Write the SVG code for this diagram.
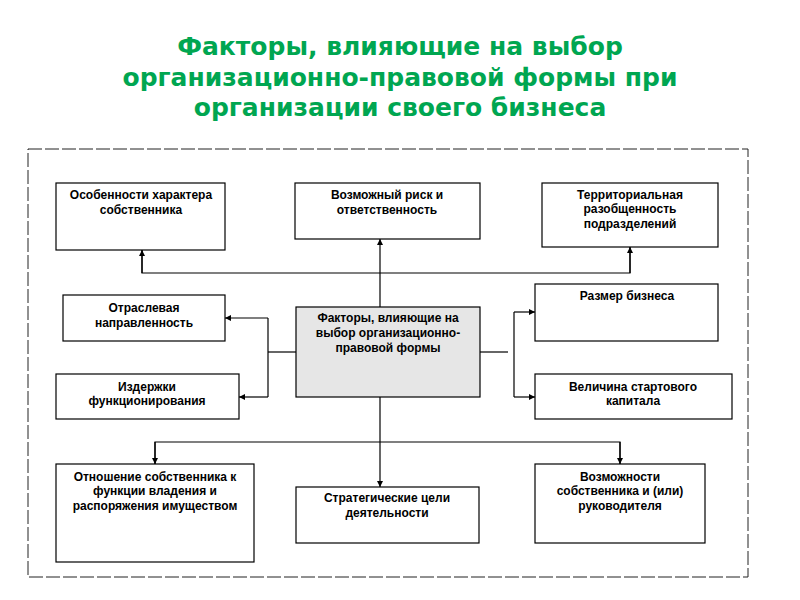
<svg xmlns="http://www.w3.org/2000/svg" width="800" height="600" viewBox="0 0 800 600">
<defs>
<marker id="ah" viewBox="0 0 10 10" refX="10" refY="5" markerWidth="6" markerHeight="6" markerUnits="userSpaceOnUse" orient="auto">
<path d="M0,0 L10,5 L0,10 z" fill="#000"/>
</marker>
<style>
.title{font-family:"DejaVu Sans",Verdana,sans-serif;font-weight:bold;font-size:25px;fill:#00a651;text-anchor:middle}
.box{fill:#fff;stroke:#000;stroke-width:1.2}
.center{fill:#e6e6e6;stroke:#000;stroke-width:1.2}
.t{font-family:"Liberation Sans",Arial,sans-serif;font-weight:bold;font-size:12px;fill:#000;text-anchor:middle}
.c{fill:none;stroke:#000;stroke-width:1.2}
.frame{fill:none;stroke:#222;stroke-width:1;stroke-dasharray:14 3}
</style>
</defs>
<rect width="800" height="600" fill="#fff"/>
<g id="title">
<text class="title" x="400" y="55">Факторы, влияющие на выбор</text>
<text class="title" x="400" y="86">организационно-правовой формы при</text>
<text class="title" x="400" y="116">организации своего бизнеса</text>
</g>
<rect class="frame" x="28" y="149" width="720" height="428"/>
<g id="connectors">
<line class="c" x1="380" y1="307" x2="380" y2="239" marker-end="url(#ah)"/>
<polyline class="c" points="142,250 142,273 630,273 630,247"/>
<line class="c" x1="142" y1="273" x2="142" y2="250" marker-end="url(#ah)"/>
<line class="c" x1="630" y1="273" x2="630" y2="247" marker-end="url(#ah)"/>
<line class="c" x1="296" y1="352" x2="268" y2="352"/>
<line class="c" x1="268" y1="318" x2="268" y2="397"/>
<line class="c" x1="268" y1="318" x2="225" y2="318" marker-end="url(#ah)"/>
<line class="c" x1="268" y1="397" x2="239" y2="397" marker-end="url(#ah)"/>
<line class="c" x1="480" y1="352" x2="508" y2="352"/>
<line class="c" x1="514" y1="312" x2="514" y2="397"/>
<line class="c" x1="514" y1="312" x2="535" y2="312" marker-end="url(#ah)"/>
<line class="c" x1="514" y1="397" x2="535" y2="397" marker-end="url(#ah)"/>
<line class="c" x1="380" y1="397" x2="380" y2="487" marker-end="url(#ah)"/>
<polyline class="c" points="155,464 155,442 620,442 620,464"/>
<line class="c" x1="155" y1="442" x2="155" y2="464" marker-end="url(#ah)"/>
<line class="c" x1="620" y1="442" x2="620" y2="464" marker-end="url(#ah)"/>
</g>
<g id="n1">
<rect class="box" x="56" y="183" width="169" height="67"/>
<text class="t" x="141" y="199">Особенности характера</text>
<text class="t" x="141" y="214">собственника</text>
</g>
<g id="n2">
<rect class="box" x="295" y="183" width="185" height="56"/>
<text class="t" x="387" y="199">Возможный риск и</text>
<text class="t" x="387" y="214">ответственность</text>
</g>
<g id="n3">
<rect class="box" x="542" y="183" width="176" height="64"/>
<text class="t" x="630" y="199">Территориальная</text>
<text class="t" x="630" y="213">разобщенность</text>
<text class="t" x="630" y="228">подразделений</text>
</g>
<g id="n4">
<rect class="box" x="63" y="295" width="162" height="46"/>
<text class="t" x="144" y="312">Отраслевая</text>
<text class="t" x="144" y="327">направленность</text>
</g>
<g id="n5">
<rect class="box" x="56" y="374" width="183" height="45"/>
<text class="t" x="147" y="391">Издержки</text>
<text class="t" x="147" y="405">функционирования</text>
</g>
<g id="center">
<rect class="center" x="296" y="307" width="184" height="90"/>
<text class="t" x="388" y="322">Факторы, влияющие на</text>
<text class="t" x="388" y="337">выбор организационно-</text>
<text class="t" x="388" y="352">правовой формы</text>
</g>
<g id="n7">
<rect class="box" x="535" y="284" width="183" height="57"/>
<text class="t" x="627" y="300">Размер бизнеса</text>
</g>
<g id="n8">
<rect class="box" x="535" y="374" width="197" height="45"/>
<text class="t" x="633" y="391">Величина стартового</text>
<text class="t" x="633" y="405">капитала</text>
</g>
<g id="n9">
<rect class="box" x="56" y="464" width="198" height="98"/>
<text class="t" x="155" y="481">Отношение собственника к</text>
<text class="t" x="155" y="495">функции владения и</text>
<text class="t" x="155" y="510">распоряжения имуществом</text>
</g>
<g id="n10">
<rect class="box" x="296" y="487" width="183" height="56"/>
<text class="t" x="387" y="502">Стратегические цели</text>
<text class="t" x="387" y="517">деятельности</text>
</g>
<g id="n11">
<rect class="box" x="535" y="464" width="170" height="79"/>
<text class="t" x="620" y="481">Возможности</text>
<text class="t" x="620" y="495">собственника и (или)</text>
<text class="t" x="620" y="510">руководителя</text>
</g>
</svg>
